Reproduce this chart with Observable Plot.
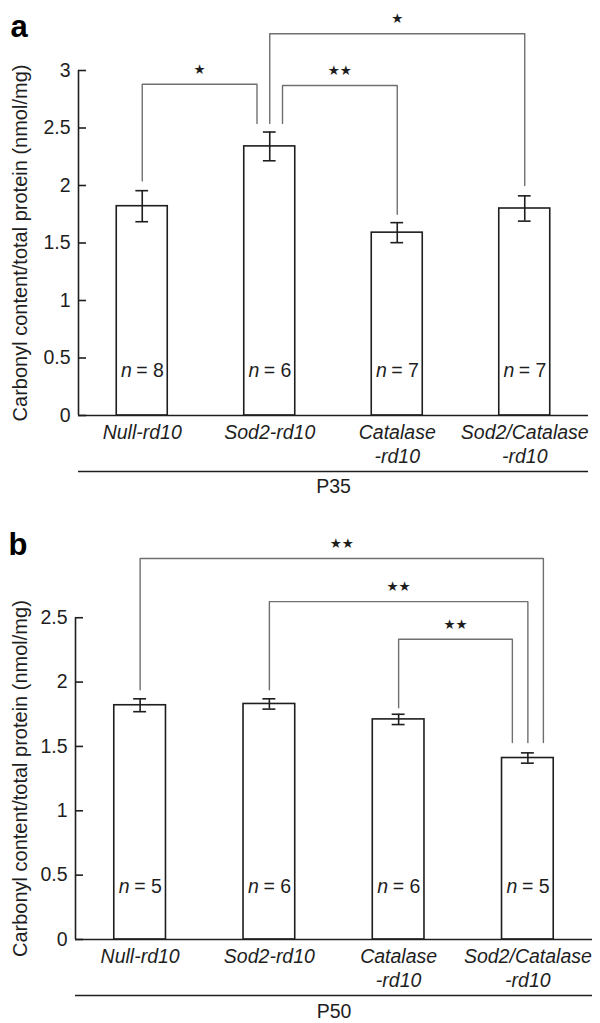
<!DOCTYPE html>
<html><head><meta charset="utf-8">
<script src="https://cdn.jsdelivr.net/npm/d3@7"></script>
<script src="https://cdn.jsdelivr.net/npm/@observablehq/plot@0.6"></script>
<style>
body{margin:0;background:#fff;}
#fig{position:relative;width:600px;height:1023px;}
.panel{position:absolute;left:0;}
</style></head><body>
<div id="fig"><div id="pa" class="panel" style="top:0"></div><div id="pb" class="panel" style="top:500px"></div></div>
<script>
// ---- data ----
const categories = ["Null-rd10", "Sod2-rd10", "Catalase\n-rd10", "Sod2/Catalase\n-rd10"];
const yLabel = "Carbonyl content/total protein (nmol/mg)";

const p35Mean = [1.82, 2.34, 1.59, 1.80];
const p35Err = [0.135, 0.125, 0.087, 0.11];
const p35N = [8, 6, 7, 7];
const p35Ticks = [0, 0.5, 1, 1.5, 2, 2.5, 3];
const p35Brackets = [
  {from: 0, to: 1, level: 2.88, fromEnd: 2.04, toEnd: 2.54, stars: "★"},
  {from: 1, to: 3, level: 3.32, fromEnd: 2.54, toEnd: 2.00, stars: "★"},
  {from: 1, to: 2, level: 2.87, fromEnd: 2.54, toEnd: 1.75, stars: "★★"}
];

const p50Mean = [1.82, 1.83, 1.71, 1.41];
const p50Err = [0.05, 0.04, 0.04, 0.04];
const p50N = [5, 6, 6, 5];
const p50Ticks = [0, 0.5, 1, 1.5, 2, 2.5];
const p50Brackets = [
  {from: 0, to: 3, level: 2.96, fromEnd: 1.94, toEnd: 1.53, stars: "★★"},
  {from: 1, to: 3, level: 2.625, fromEnd: 1.94, toEnd: 1.53, stars: "★★"},
  {from: 2, to: 3, level: 2.333, fromEnd: 1.80, toEnd: 1.53, stars: "★★"}
];

// ---- styling / layout ----
const FONT = '"Liberation Sans", Arial, Helvetica, sans-serif';
const INK = "#1e1e1e";
const GRAY = "#707070";
const p35Nudge = [[0, -0.1], [0, 0], [0.1, 0]];
const p50Nudge = [[0, 0.12], [0, 0], [0, -0.12]];

function panel(o) {
  const rows = categories.map((c, i) => ({i, c, mean: o.mean[i], err: o.err[i], n: o.n[i]}));
  const pts = o.brackets.flatMap((b, k) => {
    const x1 = b.from + o.nudge[k][0], x2 = b.to + o.nudge[k][1];
    return [{k, x: x1, y: b.fromEnd}, {k, x: x1, y: b.level}, {k, x: x2, y: b.level}, {k, x: x2, y: b.toEnd}];
  });
  const starRows = o.brackets.map((b, k) => ({
    x: (b.from + o.nudge[k][0] + b.to + o.nudge[k][1]) / 2, y: b.level, s: b.stars
  }));
  const top = o.ticks[o.ticks.length - 1];
  return Plot.plot({
    width: 600, height: o.height,
    marginTop: o.marginTop, marginBottom: o.marginBottom,
    marginLeft: o.marginLeft, marginRight: o.marginRight,
    x: {type: "linear", domain: [-0.5, 3.5], axis: null},
    y: {domain: [0, o.yMax], axis: null},
    style: {fontFamily: FONT, fontSize: "19.5px", color: INK, background: "#fff", overflow: "visible"},
    marks: [
      // bars
      Plot.rectY(rows, {x1: d => d.i - 0.2, x2: d => d.i + 0.2, y1: 0, y2: "mean", fill: "#fff", stroke: INK, strokeWidth: 1.6}),
      // axes lines
      Plot.ruleX([-0.5], {y1: 0, y2: top, stroke: INK, strokeWidth: 1.6}),
      Plot.ruleY([0], {stroke: INK, strokeWidth: 1.6}),
      Plot.ruleY([0], {dy: 56, stroke: INK, strokeWidth: 1.6}),
      Plot.axisY(o.ticks, {tickSize: -8, tickPadding: 16, tickFormat: d => String(d), label: null, stroke: INK, strokeWidth: 1.6, fill: INK, fontSize: 19.5}),
      // error bars
      Plot.ruleX(rows, {x: "i", y1: d => d.mean - d.err, y2: d => d.mean + d.err, stroke: INK, strokeWidth: 1.6}),
      Plot.ruleY(rows, {y: d => d.mean + d.err, x1: d => d.i - 0.05, x2: d => d.i + 0.05, stroke: INK, strokeWidth: 1.6}),
      Plot.ruleY(rows, {y: d => d.mean - d.err, x1: d => d.i - 0.05, x2: d => d.i + 0.05, stroke: INK, strokeWidth: 1.6}),
      // significance brackets
      Plot.line(pts, {x: "x", y: "y", z: "k", stroke: GRAY, strokeWidth: 1.4, curve: "linear"}),
      Plot.text(starRows, {x: "x", y: "y", text: "s", dy: -15, fontFamily: '"DejaVu Sans", sans-serif', fontSize: 13.5, fill: INK}),
      // n labels
      Plot.text(rows, {x: "i", y: o.nY, text: () => "n", fontStyle: "italic", textAnchor: "end", dx: -10.5, fill: INK}),
      Plot.text(rows, {x: "i", y: o.nY, text: d => "= " + d.n, textAnchor: "start", dx: -6, fill: INK}),
      // category labels
      Plot.text(rows, {x: "i", y: 0, text: "c", dy: 6, lineAnchor: "top", lineHeight: 1.23, fontStyle: "italic", fill: INK}),
      // group label
      Plot.text([o.group], {frameAnchor: "bottom", text: d => d, dy: o.groupDy, fill: INK}),
      // y label
      Plot.text([yLabel], {frameAnchor: "left", y: top / 2, text: d => d, textAnchor: "middle", rotate: -90, dx: o.labelDx, fontSize: 20, fill: INK}),
      // panel letter
      Plot.text([o.letter], {frameAnchor: "top-left", text: d => d, textAnchor: "start", dx: o.letterDx, dy: o.letterDy, fontSize: 31, fontWeight: "bold", fill: "#000"})
    ]
  });
}

document.getElementById("pa").append(panel({
  mean: p35Mean, err: p35Err, n: p35N, ticks: p35Ticks, brackets: p35Brackets, nudge: p35Nudge,
  group: "P35", letter: "a", yMax: 3.4, height: 500, marginTop: 24, marginBottom: 85,
  marginLeft: 78, marginRight: 12, nY: 0.385, labelDx: -58, letterDx: -68, letterDy: -10, groupDy: 77
}));
document.getElementById("pb").append(panel({
  mean: p50Mean, err: p50Err, n: p50N, ticks: p50Ticks, brackets: p50Brackets, nudge: p50Nudge,
  group: "P50", letter: "b", yMax: 3.1, height: 523, marginTop: 40, marginBottom: 84,
  marginLeft: 75, marginRight: 8, nY: 0.41, labelDx: -55, letterDx: -67, letterDy: -8, groupDy: 78
}));
</script>
</body></html>
